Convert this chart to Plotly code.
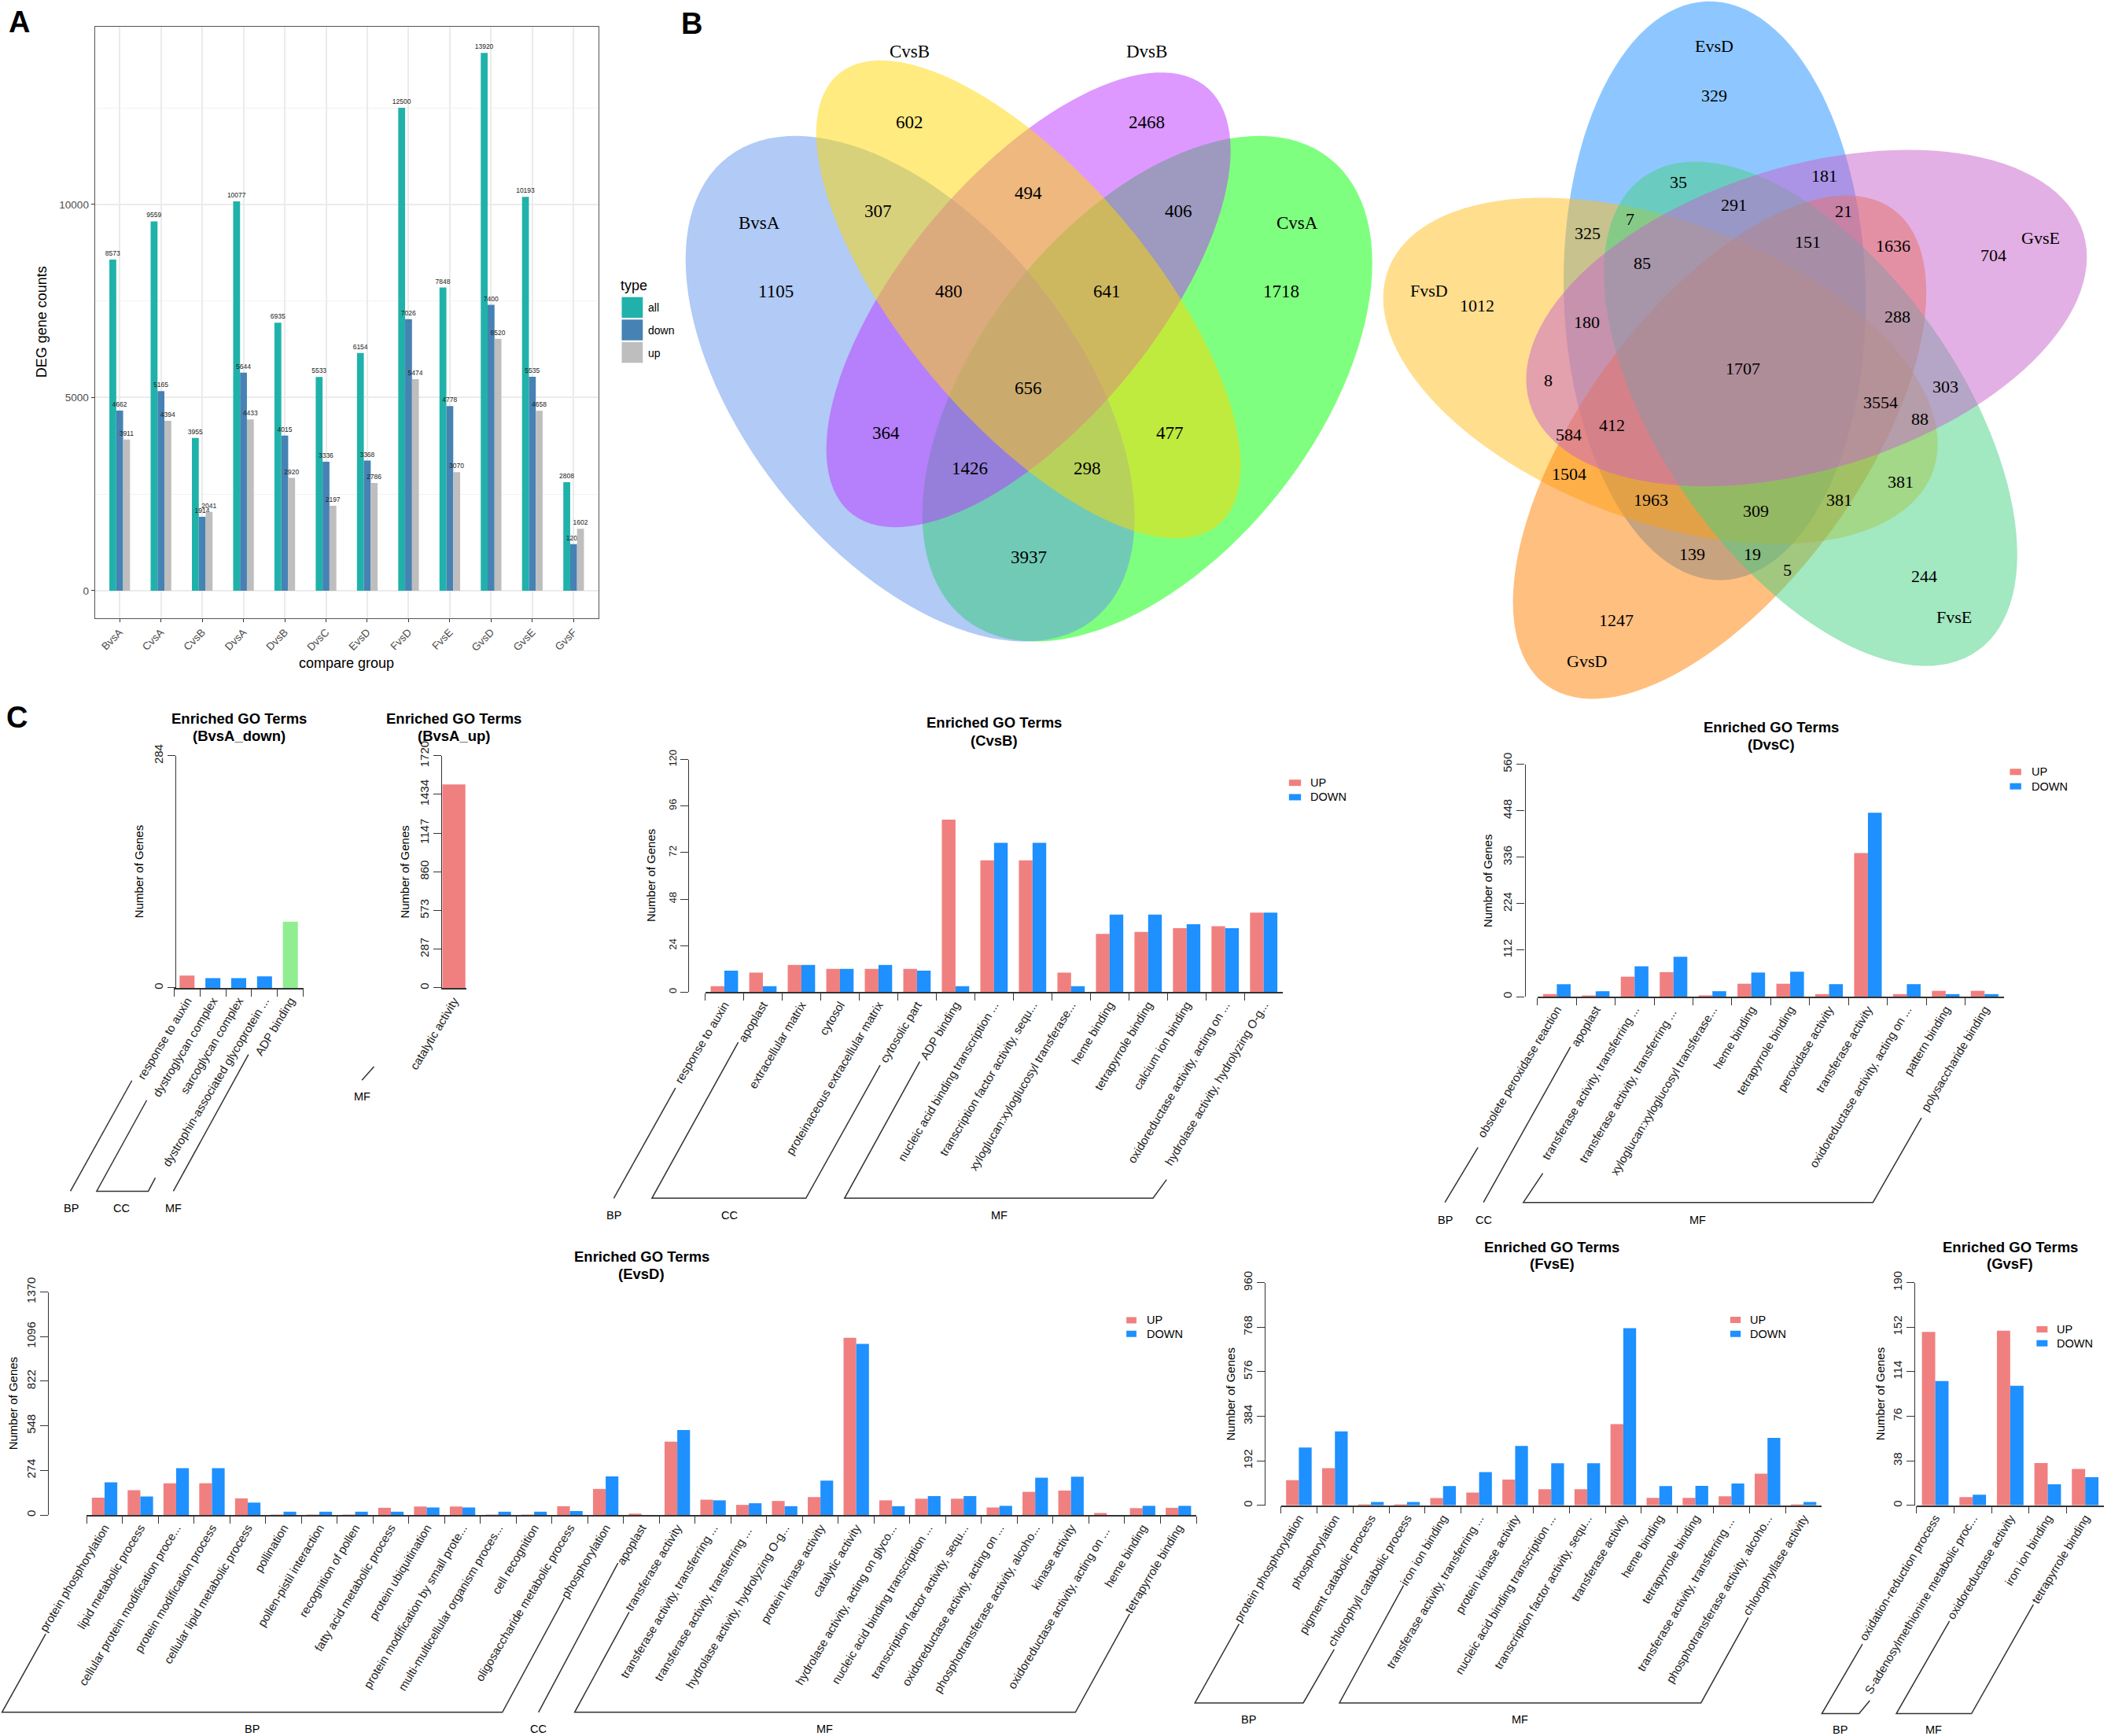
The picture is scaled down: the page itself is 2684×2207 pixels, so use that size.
import numpy as np
import plotly.graph_objects as go

W, H = 2684, 2207
SANS = "Liberation Sans"
SERIF = "Liberation Serif"

# %% panel A values
groups = ["BvsA", "CvsA", "CvsB", "DvsA", "DvsB", "DvsC", "EvsD", "FvsD", "FvsE", "GvsD", "GvsE", "GvsF"]
deg_all = [8573, 9559, 3955, 10077, 6935, 5533, 6154, 12500, 7848, 13920, 10193, 2808]
deg_down = [4662, 5165, 1914, 5644, 4015, 3336, 3368, 7026, 4778, 7400, 5535, 1206]
deg_up = [3911, 4394, 2041, 4433, 2920, 2197, 2786, 5474, 3070, 6520, 4658, 1602]

# %% panel B counts
venn4_text = ["CvsB", "DvsB", "BvsA", "CvsA", "602", "2468", "307", "494", "406", "1105", "480", "641",
              "1718", "656", "364", "477", "1426", "298", "3937"]
venn5_text = ["EvsD", "329", "35", "181", "291", "21", "7", "325", "151", "1636", "85", "GvsE", "704",
              "FvsD", "1012", "180", "288", "1707", "8", "303", "3554", "88", "412", "584", "1504", "381",
              "1963", "381", "309", "139", "19", "5", "244", "FvsE", "1247", "GvsD"]

# %% panel C values
bvsa_down_terms = ["response to auxin", "dystroglycan complex", "sarcoglycan complex",
                   "dystrophin-associated glycoprotein ...", "ADP binding"]
bvsa_down_n = [15, 12, 12, 14, 81]
bvsa_up_terms = ["catalytic activity"]
bvsa_up_n = [1507]

cvsb_terms = ["response to auxin", "apoplast", "extracellular matrix", "cytosol",
              "proteinaceous extracellular matrix", "cytosolic part", "ADP binding",
              "nucleic acid binding transcription ...", "transcription factor activity, sequ...",
              "xyloglucan:xyloglucosyl transferase...", "heme binding", "tetrapyrrole binding",
              "calcium ion binding", "oxidoreductase activity, acting on ...", "hydrolase activity, hydrolyzing O-g..."]
cvsb_up = [3, 10, 14, 12, 12, 12, 89, 68, 68, 10, 30, 31, 33, 34, 41]
cvsb_down = [11, 3, 14, 12, 14, 11, 3, 77, 77, 3, 40, 40, 35, 33, 41]

dvsc_terms = ["obsolete peroxidase reaction", "apoplast", "transferase activity, transferring ...",
              "transferase activity, transferring ...", "xyloglucan:xyloglucosyl transferase...",
              "heme binding", "tetrapyrrole binding", "peroxidase activity", "transferase activity",
              "oxidoreductase activity, acting on ...", "pattern binding", "polysaccharide binding"]
dvsc_up = [6, 3, 48, 59, 3, 31, 31, 6, 346, 6, 14, 14]
dvsc_down = [30, 13, 73, 96, 13, 58, 60, 30, 443, 30, 6, 6]

evsd_terms = ["protein phosphorylation", "lipid metabolic process", "cellular protein modification proce...",
              "protein modification process", "cellular lipid metabolic process", "pollination",
              "pollen-pistil interaction", "recognition of pollen", "fatty acid metabolic process",
              "protein ubiquitination", "protein modification by small prote...",
              "multi-multicellular organism proces...", "cell recognition", "oligosaccharide metabolic process",
              "phosphorylation", "apoplast", "transferase activity", "transferase activity, transferring ...",
              "transferase activity, transferring ...", "hydrolase activity, hydrolyzing O-g...",
              "protein kinase activity", "catalytic activity", "hydrolase activity, acting on glyco...",
              "nucleic acid binding transcription ...", "transcription factor activity, sequ...",
              "oxidoreductase activity, acting on ...", "phosphotransferase activity, alcoho...", "kinase activity",
              "oxidoreductase activity, acting on ...", "heme binding", "tetrapyrrole binding"]
evsd_up = [106, 152, 195, 195, 102, 2, 2, 2, 44, 52, 52, 2, 2, 54, 160, 8, 451, 94, 62, 86, 110, 1089, 90,
           100, 100, 46, 142, 150, 12, 42, 44]
evsd_down = [201, 114, 287, 287, 76, 20, 20, 20, 20, 46, 46, 20, 20, 24, 237, 0, 522, 90, 72, 54, 211, 1051,
             54, 116, 116, 56, 229, 235, 0, 56, 56]

fvse_terms = ["protein phosphorylation", "phosphorylation", "pigment catabolic process",
              "chlorophyll catabolic process", "iron ion binding", "transferase activity, transferring ...",
              "protein kinase activity", "nucleic acid binding transcription ...",
              "transcription factor activity, sequ...", "transferase activity", "heme binding",
              "tetrapyrrole binding", "transferase activity, transferring ...",
              "phosphotransferase activity, alcoho...", "chlorophyllase activity"]
fvse_up = [108, 160, 3, 3, 31, 55, 111, 69, 69, 350, 32, 32, 39, 136, 1]
fvse_down = [249, 319, 14, 14, 83, 143, 256, 181, 181, 764, 83, 84, 94, 291, 14]

gvsf_terms = ["oxidation-reduction process", "S-adenosylmethionine metabolic proc...", "oxidoreductase activity",
              "iron ion binding", "tetrapyrrole binding"]
gvsf_up = [148, 7, 149, 36, 31]
gvsf_down = [106, 9, 102, 18, 24]


CROP_A = (0, 0, 1568 / 860, 1568 / 880)
CROP_V4 = (850, 0, 1568 / 920, 1568 / 860)
CROP_V5 = (1740, 0, 1568 / 944, 1568 / 900)
CROP_C1 = (0, 880, 1568 / 780, 1568 / 700)
CROP_C2 = (760, 880, 1568 / 1000, 1568 / 700)
CROP_C3 = (1780, 880, 1568 / 904, 1568 / 700)
CROP_E1 = (0, 1560, 1568 / 800, 1568 / 647)
CROP_E2 = (700, 1560, 1568 / 800, 1568 / 647)
CROP_F = (1480, 1560, 1568 / 800, 1568 / 647)
CROP_G = (2240, 1560, 3, 1568 / 647)


def cx(crop, x):
    return crop[0] + x / crop[2]


def cy(crop, y):
    return crop[1] + y / crop[3]


shapes, notes = [], []


def note(x, y, text, size=15, family=SANS, anchor="center", angle=0, color="black"):
    notes.append(dict(x=x / W, y=1 - y / H, xref="paper", yref="paper", text=text, showarrow=False,
                      xanchor=anchor, yanchor="middle", textangle=angle,
                      font=dict(family=family, size=size, color=color)))


def rect(x0, x1, y0, y1, color):
    shapes.append(dict(type="rect", xref="paper", yref="paper", x0=x0 / W, x1=x1 / W, y0=1 - y1 / H, y1=1 - y0 / H,
                       fillcolor=color, line_width=0))


def polyline(crop, pts):
    path = "M " + " L ".join(f"{cx(crop, x) / W:.5f},{1 - cy(crop, y) / H:.5f}" for x, y in pts)
    shapes.append(dict(type="path", xref="paper", yref="paper", path=path,
                       line=dict(color="#333333", width=1.5)))


def ellipse(crop, x0, x1, y0, y1, xtop, color):
    # rotated ellipse from its bounding box and the x where it touches the top
    x0, x1, xtop = cx(crop, x0), cx(crop, x1), cx(crop, xtop)
    y0, y1 = cy(crop, y0), cy(crop, y1)
    a, b = (x1 - x0) / 2, (y1 - y0) / 2
    mx, my = (x0 + x1) / 2, (y0 + y1) / 2
    k = -(xtop - mx) * b / a
    t = np.linspace(0, 2 * np.pi, 121)[:-1]
    xs = mx + a * np.cos(t)
    ys = my + k * np.cos(t) + np.sqrt(b ** 2 - k ** 2) * np.sin(t)
    path = "M " + " L ".join(f"{x / W:.5f},{1 - y / H:.5f}" for x, y in zip(xs, ys)) + " Z"
    shapes.append(dict(type="path", xref="paper", yref="paper", path=path, fillcolor=color, line_width=0))


fig = go.Figure()
axes = {}

# %% panel A, bars fill half of each slot
for name, vals, col, off in [("all", deg_all, "#20B2AA", -0.25), ("down", deg_down, "#4682B4", -1 / 12),
                             ("up", deg_up, "#BEBEBE", 1 / 12)]:
    fig.add_trace(go.Bar(x=groups, y=vals, name=name, width=1 / 6, offset=off,
                         marker=dict(color=col, line_width=0), text=vals,
                         textposition="outside", textangle=0, constraintext="none", cliponaxis=False,
                         textfont=dict(size=8.5, color="#222222", family=SANS)))

axes["xaxis"] = dict(domain=[120.7 / W, 760.8 / W], type="category", range=[-0.6, 11.6], anchor="y",
                     showgrid=True, gridcolor="#EBEBEB", gridwidth=1.5, tickangle=-45, ticks="outside", ticklen=4,
                     tickcolor="#333333", tickfont=dict(size=13.5, color="#4D4D4D"), zeroline=False,
                     showline=True, mirror=True, linecolor="#555555", linewidth=1.2)
axes["yaxis"] = dict(domain=[1 - 785.6 / H, 1 - 33.7 / H], range=[-707, 14605], anchor="x",
                     tickvals=[0, 5000, 10000], ticktext=["0", "5000", "10000"],
                     showgrid=True, gridcolor="#EBEBEB", gridwidth=1.5, ticks="outside", ticklen=4,
                     tickcolor="#333333", tickfont=dict(size=13.5, color="#4D4D4D"), zeroline=False,
                     minor=dict(tickmode="array", tickvals=[2500, 7500, 12500], showgrid=True,
                                gridcolor="#F2F2F2", gridwidth=0.8, ticks=""),
                     showline=True, mirror=True, linecolor="#555555", linewidth=1.2)

note(440.5, 843.4, "compare group", 18)
note(52.7, 409.6, "DEG gene counts", 18, angle=-90)
note(806, 363, "type", 18)
for (y0, y1, yt, col, lab) in [(377.7, 404, 391, "#20B2AA", "all"), (406.3, 432.7, 420, "#4682B4", "down"),
                               (434.9, 461.3, 449, "#BEBEBE", "up")]:
    rect(790.5, 817.3, y0, y1, col)
    note(821.7, yt, lab, 14, anchor="left")

note(24, 28, "<b>A</b>", 38)
note(880, 30, "<b>B</b>", 38)
note(21, 912, "<b>C</b>", 38)

# %% panel B, draw order gives the overlap colours
ellipse(CROP_V4, 550, 1525, 315, 1487, 1280, "rgba(0,255,0,0.5)")
ellipse(CROP_V4, 37, 1010, 315, 1487, 275, "rgba(100,149,237,0.5)")
ellipse(CROP_V4, 342, 1218, 168, 1222, 1068, "rgba(187,51,255,0.5)")
ellipse(CROP_V4, 320, 1240, 140, 1248, 460, "rgba(255,215,0,0.5)")

venn4_xy = [(522, 120), (1036, 120), (196, 516), (1362, 516), (522, 284), (1036, 284), (454, 490), (780, 448),
            (1105, 490), (232, 675), (608, 675), (950, 675), (1328, 675), (780, 900), (472, 1003), (1087, 1003),
            (652, 1086), (908, 1086), (780, 1292)]
for t, (x, y) in zip(venn4_text, venn4_xy):
    note(cx(CROP_V4, x), cy(CROP_V4, y), t, 23, SERIF)

ellipse(CROP_V5, 412, 1050, 3, 1285, 720, "rgba(30,144,255,0.5)")
ellipse(CROP_V5, 31, 1202, 438, 1205, 370, "rgba(255,190,30,0.5)")
ellipse(CROP_V5, 305, 1178, 433, 1548, 1010, "rgba(255,127,0,0.5)")
ellipse(CROP_V5, 497, 1370, 358, 1475, 690, "rgba(70,210,130,0.5)")
ellipse(CROP_V5, 333, 1517, 332, 1077, 1140, "rgba(199,97,203,0.5)")

venn5_xy = [(730, 102), (730, 212), (655, 404), (962, 390), (772, 453), (1003, 467), (553, 485), (462, 516),
            (928, 536), (1108, 544), (578, 582), (1420, 527), (1320, 565), (128, 643), (230, 677), (461, 714),
            (1117, 702), (790, 816), (380, 843), (1218, 857), (1081, 892), (1165, 928), (514, 942), (422, 962),
            (423, 1049), (1124, 1067), (596, 1108), (994, 1108), (818, 1132), (683, 1227), (810, 1227), (884, 1262),
            (1174, 1276), (1236, 1367), (523, 1374), (461, 1465)]
for t, (x, y) in zip(venn5_text, venn5_xy):
    note(cx(CROP_V5, x), cy(CROP_V5, y), t, 22, SERIF)


# %% panel C helpers
def uniq(labels):
    # same truncated term can occur twice in a panel, keep them as separate categories
    seen, out = {}, []
    for t in labels:
        seen[t] = seen.get(t, 0) + 1
        out.append(t + " " * (seen[t] - 1))
    return out


def go_panel(n, terms, series, ymax, ticks, x0, x1, ytop, ybase, yaxis_x, bar_width=None, tick_size=15,
             show_ticks="outside"):
    xname, yname = f"x{n}", f"y{n}"
    cats = uniq(terms)
    for name, vals, col in series:
        fig.add_trace(go.Bar(x=cats, y=vals, name=name, width=bar_width, marker=dict(color=col, line_width=0),
                             xaxis=xname, yaxis=yname))
    axes[f"xaxis{n}"] = dict(domain=[x0 / W, x1 / W], type="category", anchor=yname, tickson="boundaries",
                             tickangle=-59, ticks=show_ticks, ticklen=9, tickcolor="#333333", showgrid=False,
                             zeroline=False, showline=True, linecolor="#333333", linewidth=1.5,
                             tickfont=dict(size=15, color="#222222"))
    axes[f"yaxis{n}"] = dict(domain=[1 - ybase / H, 1 - ytop / H], range=[0, ymax], anchor="free",
                             position=yaxis_x / W, tickvals=ticks, ticktext=[str(v) for v in ticks], tickangle=-90,
                             ticks="outside", ticklen=10,
                             tickcolor="#333333", showgrid=False, zeroline=False, showline=True,
                             linecolor="#333333", linewidth=1.2, tickfont=dict(size=tick_size, color="#222222"))


def go_text(name, x, y_title, y_sub, ylab_x, ylab_y):
    note(x, y_title, "<b>Enriched GO Terms</b>", 18.5)
    note(x, y_sub, f"<b>({name})</b>", 18.5)
    note(ylab_x, ylab_y, "Number of Genes", 15, angle=-90)


def go_brackets(crop, lines, labels):
    for pts in lines:
        polyline(crop, pts)
    for t, x, y in labels:
        note(cx(crop, x), cy(crop, y), t, 14.5)


def go_legend(x0, x1, xt, y_up, y_down):
    for y, col, lab in [(y_up, "#F08080", "UP"), (y_down, "#1E90FF", "DOWN")]:
        rect(x0, x1, y - 4, y + 4, col)
        note(xt, y, lab, 14.5, anchor="left")


# %% BvsA_down / BvsA_up, one colour per GO class
BAR_COLS = ["#F08080", "#1E90FF", "#1E90FF", "#1E90FF", "#90EE90"]
go_panel(2, bvsa_down_terms, [("BvsA_down", bvsa_down_n, BAR_COLS)], 284, [0, 284], 221.4, 385.6, 960.8, 1255.9, 223.4,
         bar_width=0.58)
go_text("BvsA_down", 303.5, 913.5, 935.8, 176.6, 1108.6)
go_brackets(CROP_C1, [[(337, 1106), (180, 1421)], [(375, 1162), (247, 1421), (379, 1421), (397, 1383)],
                      [(635, 1032), (443, 1421)]],
            [("BP", 181, 1470), ("CC", 311, 1470), ("MF", 443, 1470)])

go_panel(3, bvsa_up_terms, [("BvsA_up", bvsa_up_n, "#F08080")], 1720, [0, 287, 573, 860, 1147, 1434, 1720],
         561.2, 593, 960.8, 1255.9, 561.2, bar_width=0.92, show_ticks="")
go_text("BvsA_up", 577, 913.5, 935.8, 515, 1108.6)
go_brackets(CROP_C1, [[(956, 1066), (925, 1105)]], [("MF", 925, 1152)])

# %% CvsB
go_panel(4, cvsb_terms, [("UP", cvsb_up, "#F08080"), ("DOWN", cvsb_down, "#1E90FF")], 120, [0, 24, 48, 72, 96, 120],
         896.5, 1631.2, 965.7, 1261.2, 875.4, tick_size=13)
go_text("CvsB", 1263.8, 918.8, 941.2, 827.6, 1113.5)
go_brackets(CROP_C2, [[(32, 1441), (155, 1127)], [(280, 997), (108, 1441), (415, 1441), (563, 1062)],
                      [(642, 1052), (492, 1441), (1107, 1441), (1134, 1388)]],
            [("BP", 32, 1490), ("CC", 262, 1490), ("MF", 800, 1490)])
go_legend(cx(CROP_C2, 1378), cx(CROP_C2, 1402), cx(CROP_C2, 1418), cy(CROP_C2, 258), cy(CROP_C2, 299))

# %% DvsC
go_panel(5, dvsc_terms, [("UP", dvsc_up, "#F08080"), ("DOWN", dvsc_down, "#1E90FF")], 560, [0, 112, 224, 336, 448, 560],
         1954.7, 2548, 971.5, 1267, 1938.5)
go_text("DvsC", 2251.6, 924.2, 946.5, 1891.3, 1119.7)
go_brackets(CROP_C3, [[(172, 1296), (99, 1453)], [(376, 1010), (184, 1453)],
                      [(315, 1370), (272, 1453), (1043, 1453), (1150, 1212)]],
            [("BP", 99, 1502), ("CC", 185, 1502), ("MF", 656, 1502)])
go_legend(cx(CROP_C3, 1345), cx(CROP_C3, 1370), cx(CROP_C3, 1389), cy(CROP_C3, 227), cy(CROP_C3, 268))

# %% EvsD
go_panel(6, evsd_terms, [("UP", evsd_up, "#F08080"), ("DOWN", evsd_down, "#1E90FF")], 1370, [0, 274, 548, 822, 1096, 1370],
         110.2, 1521, 1642.5, 1926, 60.7)
go_text("EvsD", 815.8, 1597, 1619, 16.3, 1784)
go_brackets(CROP_E1, [[(114, 1253), (5, 1495), (1252, 1495), (1406, 1143)], [(1540, 1035), (1342, 1495)]],
            [("BP", 628, 1545), ("CC", 1341, 1545)])
go_brackets(CROP_E2, [[(196, 1186), (60, 1495), (1308, 1495), (1443, 1192)]], [("MF", 683, 1545)])
go_legend(cx(CROP_E2, 1435), cx(CROP_E2, 1460), cx(CROP_E2, 1481), cy(CROP_E2, 287), cy(CROP_E2, 329))

# %% FvsE
go_panel(7, fvse_terms, [("UP", fvse_up, "#F08080"), ("DOWN", fvse_down, "#1E90FF")], 960, [0, 192, 384, 576, 768, 960],
         1628.5, 2316, 1630.6, 1913.7, 1608)
go_text("FvsE", 1973.4, 1585.6, 1606.6, 1564, 1772.5)
go_brackets(CROP_F, [[(187, 1223), (77, 1466), (347, 1466), (424, 1301)],
                     [(597, 1104), (437, 1466), (1338, 1466), (1456, 1203)]],
            [("BP", 211, 1517), ("MF", 887, 1517)])
go_legend(cx(CROP_F, 1411), cx(CROP_F, 1437), cx(CROP_F, 1457), cy(CROP_F, 286), cy(CROP_F, 329))

# %% GvsF
go_panel(8, gvsf_terms, [("UP", gvsf_up, "#F08080"), ("DOWN", gvsf_down, "#1E90FF")], 190, [0, 38, 76, 114, 152, 190],
         2436.7, 2675, 1630.6, 1913.7, 2434.3)
go_text("GvsF", 2555.7, 1585.6, 1606.6, 2390.7, 1772.5)
go_brackets(CROP_G, [[(384, 1285), (229, 1499), (371, 1499), (412, 1459)],
                     [(716, 1214), (513, 1499), (800, 1499), (1036, 1163)]],
            [("BP", 298, 1548), ("MF", 656, 1548)])
go_legend(cx(CROP_G, 1048), cx(CROP_G, 1090), cx(CROP_G, 1120), cy(CROP_G, 315), cy(CROP_G, 358))

fig.update_layout(template="none", width=W, height=H, margin=dict(l=0, r=0, t=0, b=0, pad=0),
                  autosize=False, showlegend=False, barmode="group", bargap=0.29, bargroupgap=0,
                  paper_bgcolor="white", plot_bgcolor="white", font=dict(family=SANS, color="#222222"),
                  shapes=shapes, annotations=notes, **axes)

fig.write_html("out.html", config={"displayModeBar": False},
               post_script="document.body.style.margin='0';document.body.style.overflow='hidden';")
